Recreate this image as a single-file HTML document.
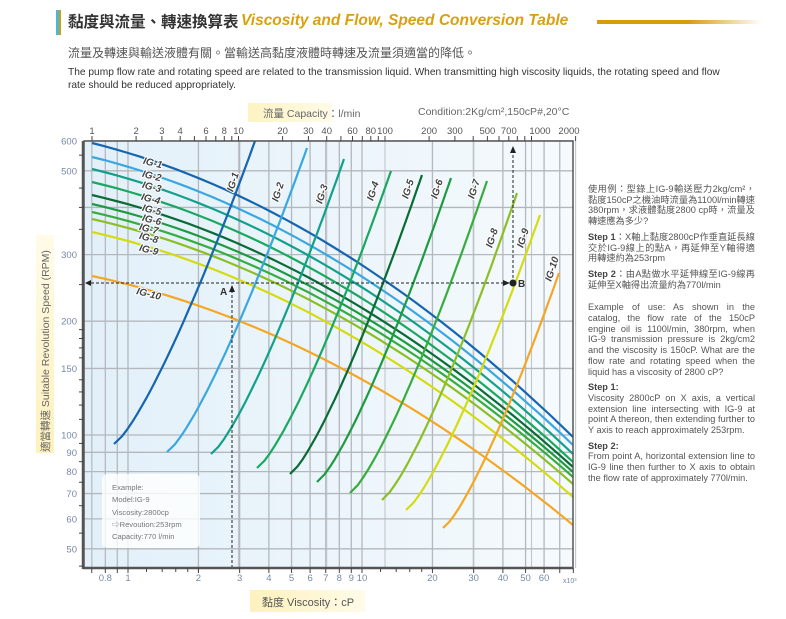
<!DOCTYPE html>
<html><head><meta charset="utf-8">
<style>
body{margin:0;width:786px;height:619px;background:#fff;position:relative;overflow:hidden;font-family:"Liberation Sans","Noto Sans CJK TC",sans-serif;}
.abs{position:absolute;}
#rt{position:absolute;left:588px;top:184px;width:167px;font-size:9.2px;line-height:10.7px;color:#555;text-align:justify;}
#rt p{margin:0 0 5px 0;}
#rt b{color:#444;}
</style></head><body>
<div class="abs" style="left:56px;top:10px;width:3px;height:25px;background:#4ab8d8"></div>
<div class="abs" style="left:59px;top:10px;width:2px;height:25px;background:#d89a10"></div>
<div class="abs" style="left:68px;top:10px;font-size:15.5px;font-weight:bold;color:#333;white-space:nowrap;">黏度與流量、轉速換算表</div>
<div class="abs" style="left:241px;top:12px;font-size:15.5px;font-weight:bold;font-style:italic;color:#d9a011;white-space:nowrap;">Viscosity and Flow, Speed Conversion Table</div>
<div class="abs" style="left:597px;top:20px;width:165px;height:4px;background:linear-gradient(90deg,#d59c0c 55%,#fff)"></div>
<div class="abs" style="left:68px;top:44px;font-size:12px;color:#555;white-space:nowrap">流量及轉速與輸送液體有關。當輸送高黏度液體時轉速及流量須適當的降低。</div>
<div class="abs" style="left:68px;top:67px;width:652px;font-size:10.2px;line-height:12.5px;color:#333">The pump flow rate and rotating speed are related to the transmission liquid. When transmitting high viscosity liquids, the rotating speed and flow rate should be reduced appropriately.</div>
<div class="abs" style="left:248px;top:103px;width:84px;height:19px;background:linear-gradient(90deg,#fdf3c2,#fffbe8);"></div>
<div class="abs" style="left:263px;top:106px;font-size:10.5px;color:#666;white-space:nowrap">流量 Capacity：l/min</div>
<div class="abs" style="left:418px;top:106px;font-size:10.5px;color:#666;white-space:nowrap">Condition:2Kg/cm²,150cP#,20°C</div>
<div class="abs" style="left:36px;top:235px;width:18px;height:218px;background:linear-gradient(180deg,#fffbe8,#fdf1bd);"></div>
<div class="abs" style="left:250px;top:590px;width:115px;height:22px;background:linear-gradient(90deg,#fdf1bd,#fffbe8);"></div>
<div class="abs" style="left:262px;top:594px;font-size:11px;color:#555;white-space:nowrap">黏度 Viscosity：cP</div>
<svg id="c" class="abs" style="left:0;top:0" width="786" height="619"></svg>
<div class="abs" style="left:102px;top:474px;width:98px;height:74px;background:rgba(255,255,255,0.8);border-radius:5px"></div>
<div class="abs" style="left:112px;top:482px;font-size:7.6px;line-height:12.3px;color:#777;white-space:nowrap">Example:<br>Model:IG-9<br>Viscosity:2800cp<br>⇨Revoution:253rpm<br>Capacity:770 l/min</div>
<div id="rt">
<p>使用例：型錄上IG-9輸送壓力2kg/cm²，黏度150cP之機油時流量為1100l/min轉速380rpm，求液體黏度2800 cp時，流量及轉速應為多少?</p>
<p><b>Step 1</b>：X軸上黏度2800cP作垂直延長線交於IG-9線上的點A，再延伸至Y軸得適用轉速約為253rpm</p>
<p><b>Step 2</b>：由A點做水平延伸線至IG-9線再延伸至X軸得出流量約為770l/min</p>
<p style="margin-top:12px">Example of use: As shown in the catalog, the flow rate of the 150cP engine oil is 1100l/min, 380rpm, when IG-9 transmission pressure is 2kg/cm2 and the viscosity is 150cP. What are the flow rate and rotating speed when the liquid has a viscosity of 2800 cP?</p>
<p><b>Step 1:</b><br>Viscosity 2800cP on X axis, a vertical extension line intersecting with IG-9 at point A thereon, then extending further to Y axis to reach approximately 253rpm.</p>
<p><b>Step 2:</b><br>From point A, horizontal extension line to IG-9 line then further to X axis to obtain the flow rate of approximately 770l/min.</p>
</div>
<script>
var s='';
var L=84,R=573,T=141,B=568;
function Y(r){return 435-378*Math.log10(r/100);}
function XB(v){return 128+234*Math.log10(v);}
function XT(f){return 92+146.5*Math.log10(f);}
s+='<defs><linearGradient id="bg" x1="0" x2="1"><stop offset="0" stop-color="#e2f0f9"/><stop offset="1" stop-color="#f5fafd"/></linearGradient></defs>';
s+='<rect x="'+L+'" y="'+T+'" width="'+(R-L)+'" height="'+(B-T)+'" fill="url(#bg)"/>';
var gv=[0.7,0.8,0.9,1,2,3,4,5,6,7,8,9,10,20,30,40,50,60,70];
gv.forEach(function(v){var x=XB(v);s+='<line x1="'+x+'" y1="'+T+'" x2="'+x+'" y2="'+B+'" stroke="#b4b8bc" stroke-width="1.3"/>';});
[1,10,100,1000,2000,40,400].forEach(function(f){var x=XT(f);s+='<line x1="'+x+'" y1="'+T+'" x2="'+x+'" y2="'+B+'" stroke="#c2c6ca" stroke-width="1.1"/>';});
var gh=[600,500,400,300,200,150,100,90,80,70,60,50];
gh.forEach(function(r){var y=Y(r);s+='<line x1="'+L+'" y1="'+y+'" x2="'+R+'" y2="'+y+'" stroke="#b4b8bc" stroke-width="1.3"/>';});
var cols=['#1565b0','#3aa7e0','#13a08a','#1aa860','#0a6b35','#1e9a40','#36ad3c','#8cbf26','#d4dc10','#f5a623'];
var y0=[143,157,169,182,195,204,212,219,232,276],y1=[437,445,454,462,467,472,477,484,497,525];
for(var i=0;i<10;i++){var p='';for(var k=0;k<=40;k++){var t=k/40;var x=92+481*t;var y=y0[i]+(y1[i]-y0[i])*(0.408*t+0.592*t*t);p+=(k?'L':'M')+x.toFixed(1)+' '+y.toFixed(1);}
s+='<path d="'+p+'" fill="none" stroke="'+cols[i]+'" stroke-width="2.2"/>';}
var vb=[[114,444],[167,452],[211,454],[257,468],[290,474],[317,482],[350,493],[382,500],[406,510],[443,528]];
var vt=[[255,141],[307,148],[344,159],[391,171],[422,175],[451,178],[487,181],[517,193],[540,215],[559,273]];
for(var i=0;i<10;i++){var p='';for(var k=0;k<=40;k++){var sv=k/40;var y=vb[i][1]+(vt[i][1]-vb[i][1])*sv;var x=vb[i][0]+(vt[i][0]-vb[i][0])*Math.pow(sv,0.78);p+=(k?'L':'M')+x.toFixed(1)+' '+y.toFixed(1);}
s+='<path d="'+p+'" fill="none" stroke="'+cols[i]+'" stroke-width="2.2"/>';}
var hl=[[152,163],[151,176],[151,187],[150,199],[151,210],[151,220],[148,229],[148,238],[148,250],[148,294]];
var lt='font-size="10" font-weight="bold" font-style="italic" fill="#444" stroke="#fff" stroke-width="2" paint-order="stroke" text-anchor="middle"';
for(var i=0;i<10;i++){s+='<text '+lt+' transform="translate('+hl[i][0]+','+(hl[i][1]+3)+') rotate(14)">IG-'+(i+1)+'</text>';}
var vl=[[233,183],[278,193],[322,195],[373,192],[408,190],[437,190],[474,190],[492,239],[523,239],[552,270]];
for(var i=0;i<10;i++){s+='<text '+lt+' transform="translate('+(vl[i][0]+3)+','+vl[i][1]+') rotate(-72)">IG-'+(i+1)+'</text>';}
var d='stroke="#222" stroke-width="1" stroke-dasharray="3,2" fill="none"';
s+='<line x1="86" y1="283" x2="508" y2="283" '+d+'/>';
s+='<line x1="232" y1="290" x2="232" y2="'+B+'" '+d+'/>';
s+='<line x1="513" y1="283" x2="513" y2="150" '+d+'/>';
s+='<path d="M85 283l6-3v6z M232 285l-3 7h6z M513 146l-3 7h6z M510 283l-7-3v6z" fill="#222"/>';
s+='<circle cx="513" cy="283" r="3.5" fill="#222"/>';
s+='<text x="220" y="295" font-size="10" font-weight="bold" fill="#333">A</text><text x="518" y="287" font-size="10" font-weight="bold" fill="#333">B</text>';
s+='<rect x="'+L+'" y="'+T+'" width="'+(R-L)+'" height="'+(B-T)+'" fill="none" stroke="#555" stroke-width="1.5"/>';
s+='<line x1="83" y1="'+T+'" x2="83" y2="'+(B+1)+'" stroke="#555" stroke-width="2.5"/><line x1="83" y1="'+B+'" x2="'+R+'" y2="'+B+'" stroke="#555" stroke-width="2.5"/>';
var tf='font-size="9.5" fill="#7888a4"';
[600,500,300,200,150,100,90,80,70,60,50].forEach(function(r){var y=Y(r);s+='<text x="77" y="'+(y+3.5)+'" text-anchor="end" '+tf+'>'+r+'</text>';});
[550,450,400,350,250,190,180,170,160,140,130,120,110,95,85,75,65,55,45].forEach(function(r){var y=Y(r);s+='<line x1="79" y1="'+y+'" x2="84" y2="'+y+'" stroke="#444"/>';});
[[0.8,'0.8'],[1,'1'],[2,'2'],[3,'3'],[4,'4'],[5,'5'],[6,'6'],[7,'7'],[8,'8'],[9,'9'],[10,'10'],[20,'20'],[30,'30'],[40,'40'],[50,'50'],[60,'60']].forEach(function(a){s+='<text x="'+XB(a[0])+'" y="581" text-anchor="middle" '+tf+'>'+a[1]+'</text>';});
s+='<text x="563" y="583" font-size="7" fill="#7888a4">x10³</text>';
for(var dec=0.1;dec<100;dec*=10){for(var m=1;m<10;m++){var v=dec*m;if(v<0.66||v>80)continue;var x=XB(v);s+='<line x1="'+x+'" y1="'+B+'" x2="'+x+'" y2="'+(B+5)+'" stroke="#444"/>';}}
for(var v=1.2;v<2;v+=0.2){var x=XB(v);s+='<line x1="'+x+'" y1="'+B+'" x2="'+x+'" y2="'+(B+4)+'" stroke="#444"/>';}
for(var v=12;v<20;v+=2){var x=XB(v);s+='<line x1="'+x+'" y1="'+B+'" x2="'+x+'" y2="'+(B+4)+'" stroke="#444"/>';}
[1,2,3,4,6,8,10,20,30,40,60,80,100,200,300,500,700,1000,2000].forEach(function(f){var x=XT(f);if(f==1000)x=540;if(f==2000)x=569;s+='<text x="'+x+'" y="134" text-anchor="middle" font-size="9.5" fill="#555">'+f+'</text>';});
for(var dec=1;dec<=1000;dec*=10){for(var m=1;m<10;m++){var f=dec*m;if(f>2000)continue;var x=XT(f);s+='<line x1="'+x+'" y1="'+(T-5)+'" x2="'+x+'" y2="'+T+'" stroke="#444"/>';}}
s+='<text transform="translate(49,452) rotate(-90)" font-size="10.5" fill="#666">適當轉速  Suitable Revolution Speed (RPM)</text>';
document.getElementById('c').innerHTML=s;
</script>
</body></html>
